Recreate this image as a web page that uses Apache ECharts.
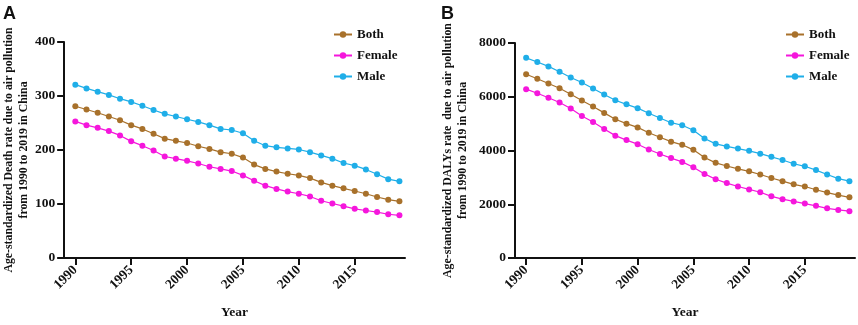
<!DOCTYPE html>
<html>
<head>
<meta charset="utf-8">
<script src="https://cdn.jsdelivr.net/npm/echarts@6/dist/echarts.min.js"></script>
<style>
  html, body { margin: 0; padding: 0; background: #fff; }
  #chart { width: 858px; height: 325px; }
</style>
</head>
<body>
<div id="chart"></div>
<script>
const years = [1990, 1991, 1992, 1993, 1994, 1995, 1996, 1997, 1998, 1999,
  2000, 2001, 2002, 2003, 2004, 2005, 2006, 2007, 2008, 2009,
  2010, 2011, 2012, 2013, 2014, 2015, 2016, 2017, 2018, 2019];
const xTickYears = [1990, 1995, 2000, 2005, 2010, 2015];

// Panel A: age-standardized death rate
const deathBoth = [281, 275, 269, 262, 255, 246, 239, 230, 221, 217,
  213, 207, 202, 196, 193, 186, 173, 165, 160, 156,
  153, 148, 140, 134, 129, 124, 119, 113, 108, 105];
const deathFemale = [253, 246, 241, 235, 227, 216, 208, 199, 188, 184,
  180, 175, 169, 165, 161, 153, 143, 134, 128, 123,
  119, 114, 106, 101, 96, 91, 88, 85, 81, 79];
const deathMale = [321, 314, 308, 302, 295, 289, 282, 274, 267, 262,
  257, 252, 246, 239, 237, 231, 217, 208, 205, 203,
  201, 196, 190, 184, 176, 171, 164, 155, 146, 142];

// Panel B: age-standardized DALYs rate
const dalyBoth = [6835, 6671, 6494, 6318, 6094, 5859, 5635, 5400, 5165, 5000,
  4859, 4659, 4494, 4329, 4212, 4024, 3741, 3541, 3424, 3318,
  3224, 3106, 2976, 2859, 2741, 2659, 2541, 2435, 2341, 2259];
const dalyFemale = [6282, 6129, 5965, 5788, 5565, 5282, 5059, 4800, 4553, 4388,
  4235, 4035, 3871, 3718, 3576, 3376, 3129, 2929, 2788, 2659,
  2553, 2447, 2294, 2188, 2106, 2024, 1941, 1847, 1788, 1741];
const dalyMale = [7447, 7294, 7129, 6929, 6718, 6529, 6306, 6082, 5871, 5718,
  5576, 5388, 5212, 5035, 4941, 4753, 4447, 4247, 4153, 4071,
  3988, 3882, 3765, 3647, 3506, 3412, 3271, 3106, 2953, 2859];

const seriesNames = ['Both', 'Female', 'Male'];
const colors = ['#A8712B', '#F516DC', '#1FAEE8'];

const serif = '"Liberation Serif", "Times New Roman", serif';
const axisColor = '#111';

const pairs = (vals) => years.map((y, i) => [y, vals[i]]);
const plain = (v) => String(v);

const makeX = (gridIndex) => ({
  type: 'value',
  gridIndex,
  min: 1989,
  max: 2019.5,
  name: 'Year',
  nameLocation: 'middle',
  nameGap: 48,
  nameTextStyle: { fontFamily: serif, fontWeight: 'bold', fontSize: 13.5, color: axisColor },
  axisLine: { show: true, lineStyle: { color: axisColor, width: 2 } },
  axisTick: { show: true, length: 7, lineStyle: { width: 2, color: axisColor }, customValues: xTickYears },
  axisLabel: {
    rotate: 45,
    margin: 10,
    fontFamily: serif,
    fontWeight: 'bold',
    fontSize: 13.5,
    color: axisColor,
    formatter: plain,
    customValues: xTickYears
  },
  splitLine: { show: false }
});

const makeY = (gridIndex, max, interval, name, nameGap) => ({
  type: 'value',
  gridIndex,
  min: 0,
  max,
  interval,
  name,
  nameLocation: 'middle',
  nameGap,
  nameTextStyle: {
    fontFamily: serif,
    fontWeight: 'bold',
    fontSize: 11.8,
    lineHeight: 15,
    color: axisColor,
    align: 'center'
  },
  axisLine: { show: true, lineStyle: { color: axisColor, width: 2 } },
  axisTick: { show: true, length: 7, lineStyle: { width: 2, color: axisColor } },
  axisLabel: { margin: 9, fontFamily: serif, fontWeight: 'bold', fontSize: 13.5, color: axisColor, formatter: plain },
  splitLine: { show: false }
});

const makeSeries = (vals, idx, axisIdx) => ({
  name: seriesNames[idx],
  type: 'line',
  xAxisIndex: axisIdx,
  yAxisIndex: axisIdx,
  data: pairs(vals),
  symbol: 'circle',
  symbolSize: 6,
  itemStyle: { color: colors[idx] },
  lineStyle: { color: colors[idx], width: 1.2 },
  emphasis: { disabled: true },
  z: 3 - idx
});

const makeLegend = (left, seriesIndex) => ({
  orient: 'vertical',
  left,
  top: 23,
  itemWidth: 18,
  itemHeight: 8,
  itemGap: 8,
  selectedMode: false,
  textStyle: { fontFamily: serif, fontWeight: 'bold', fontSize: 13, color: axisColor },
  data: seriesNames.map((n) => ({ name: n })),
  seriesIndex
});

const chart = echarts.init(document.getElementById('chart'), null, { renderer: 'canvas' });

chart.setOption({
  backgroundColor: '#fff',
  animation: false,
  title: [
    { text: 'A', left: -2, top: 0, textStyle: { fontFamily: '"Liberation Sans", Arial, sans-serif', fontWeight: 'bold', fontSize: 18, color: '#111' } },
    { text: 'B', left: 436, top: 0, textStyle: { fontFamily: '"Liberation Sans", Arial, sans-serif', fontWeight: 'bold', fontSize: 18, color: '#111' } }
  ],
  grid: [
    { left: 61, top: 42, right: 453, bottom: 55, containLabel: false },
    { left: 515, top: 43, right: 3, bottom: 55, containLabel: false }
  ],
  legend: [makeLegend(328, [0, 1, 2]), makeLegend(780, [3, 4, 5])],
  xAxis: [makeX(0), makeX(1)],
  yAxis: [
    makeY(0, 400, 100, 'Age-standardized Death rate due to air pollution\nfrom 1990 to 2019 in China', 32),
    makeY(1, 8000, 2000, 'Age-standardized DALYs rate  due to air pollution\nfrom 1990 to 2019 in China', 45)
  ],
  series: [
    makeSeries(deathBoth, 0, 0),
    makeSeries(deathFemale, 1, 0),
    makeSeries(deathMale, 2, 0),
    makeSeries(dalyBoth, 0, 1),
    makeSeries(dalyFemale, 1, 1),
    makeSeries(dalyMale, 2, 1)
  ]
});
</script>
</body>
</html>
